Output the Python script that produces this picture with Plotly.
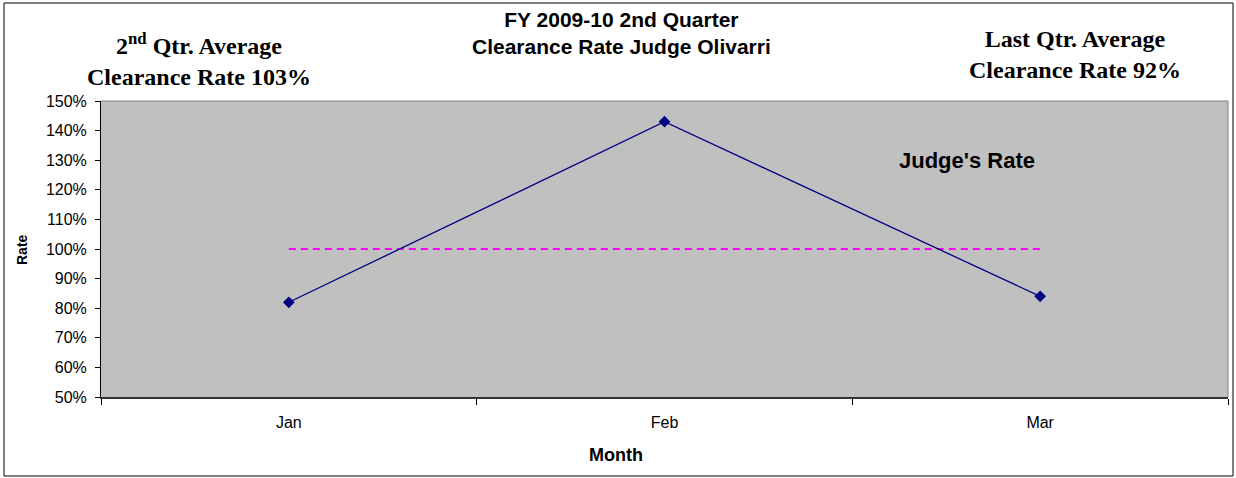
import plotly.graph_objects as go

months = ["Jan", "Feb", "Mar"]
judge_rate = [82, 143, 84]
target_rate = [100, 100, 100]
y_ticks = [50, 60, 70, 80, 90, 100, 110, 120, 130, 140, 150]
y_labels = [f"{v}%" for v in y_ticks]

W, H = 1236, 478
L, R, T, B = 101, 8, 101, 81
PW, PH = W - L - R, H - T - B


def px_x(x):
    return (x - L) / PW


def px_y(y):
    return (H - B - y) / PH


fig = go.Figure()
fig.add_trace(go.Scatter(
    x=months, y=target_rate, mode="lines",
    line=dict(color="#FF00FF", width=2, dash="7px,5px"),
    showlegend=False, hoverinfo="skip"))
fig.add_trace(go.Scatter(
    x=months, y=judge_rate, mode="lines+markers",
    line=dict(color="#000080", width=1.3),
    marker=dict(symbol="diamond", size=9, color="#000080"),
    showlegend=False))

ARIAL = "Arial, Liberation Sans, sans-serif"
TIMES = "Times New Roman, Liberation Serif, serif"


def ann(text, x, y, family, size, **kw):
    d = dict(text=text, xref="paper", yref="paper", x=px_x(x), y=px_y(y),
             xanchor="center", yanchor="middle", showarrow=False,
             align="center", font=dict(family=family, size=size, color="black"))
    d.update(kw)
    return d


fig.update_layout(
    width=W, height=H,
    margin=dict(l=L, r=R, t=T, b=B, autoexpand=False),
    paper_bgcolor="white", plot_bgcolor="#C0C0C0",
    font=dict(family=ARIAL, size=16, color="black"),
    xaxis=dict(
        type="category", range=[-0.5, 2.5], tickson="boundaries",
        ticks="outside", ticklen=6, tickcolor="black", tickwidth=1,
        showline=True, linecolor="#333333", linewidth=2,
        showgrid=False, zeroline=False, ticklabelstandoff=10,
        tickfont=dict(size=16, family=ARIAL),
    ),
    yaxis=dict(
        range=[50, 150], tickvals=y_ticks, ticktext=y_labels,
        ticks="outside", ticklen=5, tickcolor="black",
        showline=True, linecolor="black", linewidth=1,
        showgrid=False, zeroline=False, ticklabelstandoff=5,
        tickfont=dict(size=16, family=ARIAL),
    ),
    shapes=[
        dict(type="line", xref="paper", yref="paper", x0=0, x1=1, y0=1, y1=1,
             line=dict(color="#808080", width=1)),
        dict(type="line", xref="paper", yref="paper", x0=1, x1=1, y0=0, y1=1,
             line=dict(color="#808080", width=1)),
        dict(type="rect", xref="paper", yref="paper",
             x0=px_x(4), x1=px_x(1233), y0=px_y(476), y1=px_y(3),
             line=dict(color="black", width=1), layer="below"),
    ],
    annotations=[
        ann("<b>FY 2009-10 2nd Quarter<br>Clearance Rate Judge Olivarri</b>",
            621, 33, ARIAL, 21),
        ann("<b>2<sup>nd</sup> Qtr. Average<br>Clearance Rate 103%</b>",
            199, 60, TIMES, 24),
        ann("<b>Last Qtr. Average<br>Clearance Rate 92%</b>",
            1075, 54, TIMES, 24),
        ann("<b>Judge's Rate</b>", 967, 160, ARIAL, 22),
        ann("<b>Month</b>", 616, 455, ARIAL, 18),
        ann("<b>Rate</b>", 22, 250, ARIAL, 14, textangle=-90),
    ],
)

fig.write_html("out.html", config={"displayModeBar": False},
               post_script="document.body.style.margin='0';")
